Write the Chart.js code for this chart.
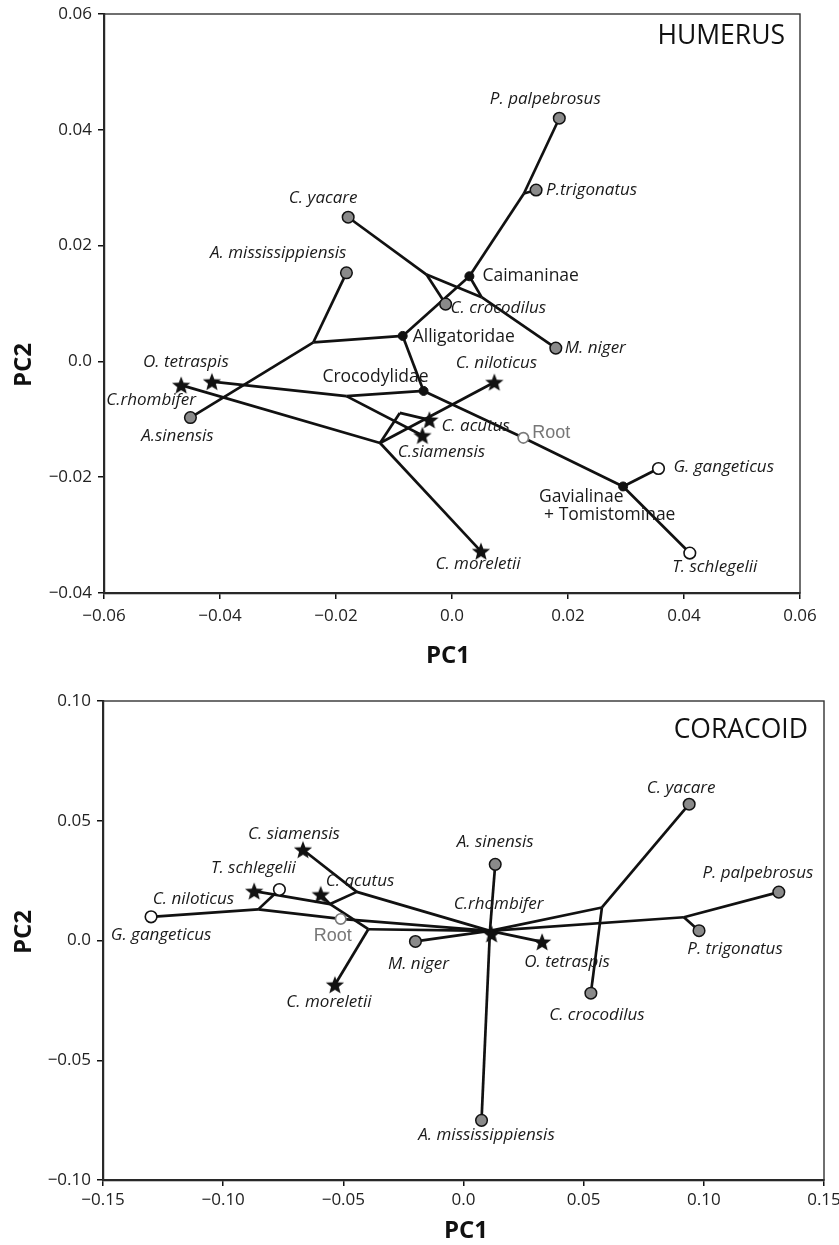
<!DOCTYPE html>
<html>
<head>
<meta charset="utf-8">
<title>Humerus / coracoid PCA morphospace</title>
<script src="https://cdn.jsdelivr.net/npm/chart.js@4.4.0/dist/chart.umd.min.js"></script>
<style>
    html, body { margin: 0; padding: 0; background: #fff; overflow: hidden; }
    canvas { display: block; position: absolute; left: 0; }
    #humerus { top: 0; }
    #coracoid { top: 668px; }
</style>
</head>
<body>
<canvas id="humerus" width="839" height="668"></canvas>
<canvas id="coracoid" width="839" height="577"></canvas>
<script>
// ---------- HUMERUS ----------
const humTaxa = ['P. palpebrosus', 'P.trigonatus', 'C. yacare', 'C. crocodilus', 'M. niger',
    'A. mississippiensis', 'A.sinensis', 'O. tetraspis', 'C.rhombifer', 'C. niloticus',
    'C. acutus', 'C.siamensis', 'C. moreletii', 'G. gangeticus', 'T. schlegelii'];
const humPC1 = [0.0185, 0.0145, -0.0179, -0.0011, 0.0179, -0.0182, -0.0451, -0.0414, -0.0467, 0.0073,
    -0.0039, -0.0051, 0.0050, 0.0356, 0.0410];
const humPC2 = [0.0420, 0.0296, 0.0249, 0.0099, 0.0023, 0.0153, -0.0097, -0.0035, -0.0041, -0.0036,
    -0.0101, -0.0128, -0.0328, -0.0185, -0.0331];
const humKind = ['gray', 'gray', 'gray', 'gray', 'gray', 'gray', 'gray', 'star', 'star', 'star',
    'star', 'star', 'star', 'open', 'open'];

// internal nodes of the tree
const humNodes = ['Caimaninae', 'Alligatoridae', 'Crocodylidae', 'Gavialinae', 'Root',
    'n1', 'n2', 'n3', 'n4', 'n5', 'n6', 'n7'];
const humNodeText = ['Caimaninae', 'Alligatoridae', 'Crocodylidae', 'Gavialinae\n+ Tomistominae', 'Root',
    '', '', '', '', '', '', ''];
const humNodePC1 = [0.0030, -0.0085, -0.0049, 0.0295, 0.0123, 0.0124, -0.0044, 0.0051, -0.0239, -0.0182, -0.0124, -0.0090];
const humNodePC2 = [0.0147, 0.0044, -0.0051, -0.0216, -0.0132, 0.0290, 0.0150, 0.0111, 0.0033, -0.0060, -0.0141, -0.0089];

const humEdges = [
    ['P. palpebrosus', 'n1'], ['n1', 'P.trigonatus'], ['n1', 'Caimaninae'], ['Caimaninae', 'n3'],
    ['C. yacare', 'n2'], ['n2', 'n3'], ['n3', 'M. niger'], ['n2', 'C. crocodilus'],
    ['Caimaninae', 'Alligatoridae'], ['Alligatoridae', 'n4'], ['n4', 'A. mississippiensis'], ['n4', 'A.sinensis'],
    ['Alligatoridae', 'Crocodylidae'], ['Crocodylidae', 'Root'], ['Root', 'Gavialinae'],
    ['Gavialinae', 'G. gangeticus'], ['Gavialinae', 'T. schlegelii'],
    ['Crocodylidae', 'n5'], ['n5', 'O. tetraspis'], ['n5', 'C.siamensis'],
    ['C.rhombifer', 'n6'], ['n6', 'C. moreletii'], ['n6', 'C. niloticus'], ['n6', 'n7'], ['n7', 'C. acutus']
];

// ---------- CORACOID ----------
const corTaxa = ['G. gangeticus', 'C. niloticus', 'T. schlegelii', 'C. siamensis', 'C. acutus',
    'C. moreletii', 'M. niger', 'A. sinensis', 'C.rhombifer', 'O. tetraspis',
    'A. mississippiensis', 'C. crocodilus', 'C. yacare', 'P. palpebrosus', 'P. trigonatus'];
const corPC1 = [-0.1300, -0.0871, -0.0766, -0.0668, -0.0594, -0.0535, -0.0200, 0.0132, 0.0117, 0.0327,
    0.0075, 0.0530, 0.0939, 0.1312, 0.0980];
const corPC2 = [0.0099, 0.0206, 0.0213, 0.0379, 0.0192, -0.0185, -0.0004, 0.0318, 0.0027, -0.0006,
    -0.0751, -0.0220, 0.0569, 0.0202, 0.0041];
const corKind = ['open', 'star', 'open', 'star', 'star', 'star', 'gray', 'gray', 'star', 'star',
    'gray', 'gray', 'gray', 'gray', 'gray'];

const corNodes = ['Root', 'b1', 'b2', 'b3', 'b4', 'b5', 'b6', 'b7'];
const corNodeText = ['Root', '', '', '', '', '', '', ''];
const corNodePC1 = [-0.0511, -0.0854, -0.0555, -0.0444, -0.0396, 0.0110, 0.0576, 0.0917];
const corNodePC2 = [0.0090, 0.0130, 0.0152, 0.0203, 0.0047, 0.0040, 0.0138, 0.0097];

const corEdges = [
    ['G. gangeticus', 'b1'], ['b1', 'T. schlegelii'], ['b1', 'Root'], ['Root', 'b5'],
    ['C. niloticus', 'b2'], ['b2', 'b4'], ['b2', 'C. acutus'], ['b2', 'b3'],
    ['C. siamensis', 'b3'], ['b3', 'b5'], ['b4', 'C. moreletii'], ['b4', 'b5'],
    ['M. niger', 'b5'], ['A. sinensis', 'b5'], ['A. mississippiensis', 'b5'], ['C.rhombifer', 'b5'],
    ['b5', 'O. tetraspis'], ['b5', 'b6'], ['b6', 'C. yacare'], ['b6', 'C. crocodilus'],
    ['b5', 'b7'], ['b7', 'P. palpebrosus'], ['b7', 'P. trigonatus']
];

// label placement (pixel offset from the mark, alignment)
const humLabelPos = {
    'P. palpebrosus': [-14, -19, 'center'], 'P.trigonatus': [10, 0, 'left'], 'C. yacare': [-25, -19, 'center'],
    'C. crocodilus': [5, 4, 'left'], 'M. niger': [9, 0, 'left'], 'A. mississippiensis': [0, -20, 'right'],
    'A.sinensis': [-13, 19, 'center'], 'O. tetraspis': [-26, -20, 'center'], 'C.rhombifer': [-30, 15, 'center'],
    'C. niloticus': [2, -19, 'center'], 'C. acutus': [12, 6, 'left'], 'C.siamensis': [19, 17, 'center'],
    'C. moreletii': [-3, 13, 'center'], 'G. gangeticus': [15, -1, 'left'], 'T. schlegelii': [25, 14, 'center'],
    'Caimaninae': [13, 0, 'left'], 'Alligatoridae': [10, 1, 'left'], 'Crocodylidae': [5, -14, 'right'],
    'Gavialinae': [-84, 11, 'left', 5], 'Root': [9, -5, 'left']
};
const corLabelPos = {
    'G. gangeticus': [10, 18, 'center'], 'C. niloticus': [-20, 8, 'right'], 'T. schlegelii': [-26, -21, 'center'],
    'C. siamensis': [-9, -16, 'center'], 'C. acutus': [5, -13, 'left'], 'C. moreletii': [-6, 17, 'center'],
    'M. niger': [3, 23, 'center'], 'A. sinensis': [0, -22, 'center'], 'C.rhombifer': [7, -30, 'center'],
    'O. tetraspis': [25, 20, 'center'], 'A. mississippiensis': [5, 15, 'center'], 'C. crocodilus': [6, 22, 'center'],
    'C. yacare': [-8, -16, 'center'], 'P. palpebrosus': [-21, -19, 'center'], 'P. trigonatus': [36, 18, 'center'],
    'Root': [-8, 17, 'center']
};

const FONT = "'Open Sans', 'Noto Sans', sans-serif";

// filled five-point star used for Crocodylinae
const starImg = (function () {
    const c = document.createElement('canvas');
    c.width = 22; c.height = 22;
    const g = c.getContext('2d');
    g.beginPath();
    for (let i = 0; i < 10; i++) {
        const r = i % 2 === 0 ? 9.6 : 4.1;
        const a = -Math.PI / 2 + i * Math.PI / 5;
        const px = 11 + r * Math.cos(a), py = 11.8 + r * Math.sin(a);
        if (i === 0) g.moveTo(px, py); else g.lineTo(px, py);
    }
    g.closePath();
    g.fillStyle = '#111';
    g.fill();
    return c;
})();

function fmt(v) {
    if (Math.abs(v) < 1e-9) return '0.0';
    return (v < 0 ? '\u2212' : '') + Math.abs(v).toFixed(2);
}

function buildChart(id, d) {
    const pos = {};
    d.taxa.forEach((t, i) => pos[t] = { x: d.pc1[i], y: d.pc2[i] });
    d.nodes.forEach((t, i) => pos[t] = { x: d.npc1[i], y: d.npc2[i] });

    let datasets = [];
    d.edges.forEach(e => {
        datasets.push({
            data: [Object.assign({}, pos[e[0]]), Object.assign({}, pos[e[1]])],
            showLine: true, borderColor: '#111', borderWidth: 2.7,
            pointRadius: 0, order: 5
        });
    });

    const pick = k => d.taxa.map((t, i) => d.kind[i] === k ? { x: d.pc1[i], y: d.pc2[i] } : null).filter(p => p);
    datasets.push({ data: pick('gray'), pointRadius: 5.8, pointBackgroundColor: '#8a8a8a',
        pointBorderColor: '#111', pointBorderWidth: 1.5, order: 1 });
    datasets.push({ data: pick('open'), pointRadius: 5.8, pointBackgroundColor: '#fff',
        pointBorderColor: '#111', pointBorderWidth: 1.6, order: 1 });
    datasets.push({ data: pick('star'), pointStyle: starImg, pointRadius: 9, order: 0 });

    const dots = d.nodes.filter((n, i) => d.nodeText[i] && n !== 'Root').map(n => pos[n]);
    datasets.push({ data: dots, pointRadius: 4.5, pointBackgroundColor: '#111',
        pointBorderColor: '#111', pointBorderWidth: 1, order: 1 });
    datasets.push({ data: [Object.assign({}, pos['Root'])], pointRadius: 5.2, pointBackgroundColor: '#fff',
        pointBorderColor: '#7a7a7a', pointBorderWidth: 1.7, order: 1 });

    const labelPlugin = {
        id: 'labels',
        afterDatasetsDraw(chart) {
            const ctx = chart.ctx, xs = chart.scales.x, ys = chart.scales.y;
            ctx.save();
            ctx.textBaseline = 'middle';
            function put(name, text, italic, color, family, size) {
                const p = d.labelPos[name];
                if (!p) return;
                const px = xs.getPixelForValue(pos[name].x) + p[0];
                const py = ys.getPixelForValue(pos[name].y) + p[1];
                ctx.font = (italic ? 'italic ' : '') + size + 'px ' + family;
                ctx.fillStyle = color;
                ctx.textAlign = p[2];
                text.split('\n').forEach((ln, k) => {
                    ctx.fillText(ln, px + (k ? (p[3] || 0) : 0), py + k * 18);
                });
            }
            d.taxa.forEach(t => put(t, t, true, '#1a1a1a', FONT, 17));
            d.nodes.forEach((n, i) => {
                if (!d.nodeText[i]) return;
                if (n === 'Root') put(n, 'Root', false, '#777', "'Liberation Sans', Arial, sans-serif", 18);
                else put(n, d.nodeText[i], false, '#1a1a1a', FONT, 17.5);
            });

            const a = chart.chartArea;
            // frame round the plot
            ctx.strokeStyle = '#333';
            ctx.lineWidth = 1.4;
            ctx.strokeRect(a.left, a.top, a.right - a.left, a.bottom - a.top);

            // panel title
            ctx.font = '26.5px ' + FONT;
            ctx.fillStyle = '#111';
            ctx.textAlign = 'right';
            ctx.fillText(d.title, a.right - d.titleDx, a.top + d.titleDy);

            // axis titles
            ctx.font = 'bold 24px ' + FONT;
            ctx.textAlign = 'center';
            ctx.fillText('PC1', d.pc1At[0], d.pc1At[1]);
            ctx.save();
            ctx.translate(d.pc2At[0], d.pc2At[1]);
            ctx.rotate(-Math.PI / 2);
            ctx.fillText('PC2', 0, 0);
            ctx.restore();
            ctx.restore();
        }
    };

    const tickFont = { family: FONT, size: 17 };
    return new Chart(document.getElementById(id), {
        type: 'scatter',
        data: { datasets: datasets },
        options: {
            responsive: false,
            animation: false,
            events: [],
            layout: { padding: { top: d.padTop, right: d.padRight, left: 0, bottom: 0 } },
            plugins: { legend: { display: false }, tooltip: { enabled: false } },
            scales: {
                x: {
                    type: 'linear', min: d.xmin, max: d.xmax,
                    ticks: { stepSize: d.xstep, callback: fmt, font: tickFont, color: '#222',
                        padding: d.xpad, maxRotation: 0, autoSkip: false },
                    grid: { drawOnChartArea: false, drawTicks: true, tickLength: 6, color: '#111', lineWidth: 1.5 },
                    border: { display: true, color: '#111', width: 2.2 },
                    afterFit: s => { s.height = d.xh; s.paddingLeft = 0; s.paddingRight = 0; }
                },
                y: {
                    type: 'linear', min: d.ymin, max: d.ymax,
                    ticks: { stepSize: d.ystep, callback: fmt, font: tickFont, color: '#222', padding: 6 },
                    grid: { drawOnChartArea: false, drawTicks: true, tickLength: 6, color: '#111', lineWidth: 1.5 },
                    border: { display: true, color: '#111', width: 2.2 },
                    afterFit: s => { s.width = d.yw; s.paddingTop = 0; s.paddingBottom = 0; }
                }
            }
        },
        plugins: [labelPlugin]
    });
}

buildChart('humerus', {
    taxa: humTaxa, pc1: humPC1, pc2: humPC2, kind: humKind,
    nodes: humNodes, nodeText: humNodeText, npc1: humNodePC1, npc2: humNodePC2,
    edges: humEdges, labelPos: humLabelPos,
    title: 'HUMERUS', titleDx: 15, titleDy: 22,
    xmin: -0.06, xmax: 0.06, xstep: 0.02, ymin: -0.04, ymax: 0.06, ystep: 0.02,
    padTop: 14, padRight: 39, yw: 104, xh: 75, xpad: 7,
    pc1At: [448, 656], pc2At: [24, 365]
});

buildChart('coracoid', {
    taxa: corTaxa, pc1: corPC1, pc2: corPC2, kind: corKind,
    nodes: corNodes, nodeText: corNodeText, npc1: corNodePC1, npc2: corNodePC2,
    edges: corEdges, labelPos: corLabelPos,
    title: 'CORACOID', titleDx: 16, titleDy: 29,
    xmin: -0.15, xmax: 0.15, xstep: 0.05, ymin: -0.10, ymax: 0.10, ystep: 0.05,
    padTop: 33, padRight: 15, yw: 103, xh: 65, xpad: 4,
    pc1At: [466, 563], pc2At: [24, 264]
});
</script>
</body>
</html>
